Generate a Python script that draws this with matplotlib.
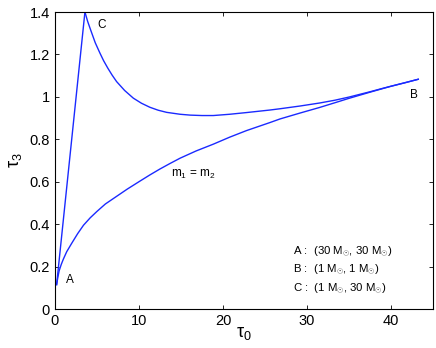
import matplotlib
matplotlib.use("Agg")
import matplotlib.pyplot as plt

plt.rcParams["font.family"] = ["Liberation Sans", "DejaVu Sans"]
plt.rcParams["mathtext.fontset"] = "custom"
plt.rcParams["mathtext.rm"] = "Liberation Sans"
plt.rcParams["mathtext.it"] = "Liberation Sans"

# equal-mass line, A -> B
eq_tau0 = [0.2, 0.35, 0.5, 0.75, 1.0, 1.4, 2.0, 2.7, 3.4, 4.2, 5.0, 6.0, 7.3,
           8.6, 10.0, 11.3, 12.5, 13.7, 14.9, 16.8, 18.85, 20.8, 22.8, 24.2,
           25.6, 26.8, 29.2, 31.5, 33.3, 35.0, 37.5, 40.0, 41.7, 43.25]
eq_tau3 = [0.115, 0.15, 0.18, 0.21, 0.235, 0.27, 0.31, 0.355, 0.395, 0.43,
           0.46, 0.495, 0.53, 0.565, 0.60, 0.632, 0.66, 0.686, 0.711, 0.745,
           0.777, 0.81, 0.841, 0.86, 0.879, 0.896, 0.924, 0.950, 0.972, 0.993,
           1.022, 1.050, 1.067, 1.083]

# edge A -> C
ac_tau0 = [0.2, 3.57]
ac_tau3 = [0.115, 1.40]

# edge C -> B
cb_tau0 = [3.57, 3.9, 4.3, 4.8, 5.36, 5.8, 6.3, 6.8, 7.34, 8.3, 9.33, 10.3,
           11.3, 12.3, 13.3, 14.9, 16.1, 17.5, 18.85, 20.8, 22.8, 24.2, 25.6,
           26.8, 29.2, 31.5, 33.3, 35.0, 36.3, 37.5, 39.0, 40.0, 41.7, 43.25]
cb_tau3 = [1.40, 1.355, 1.31, 1.255, 1.206, 1.17, 1.135, 1.103, 1.072, 1.03,
           0.994, 0.97, 0.951, 0.937, 0.927, 0.918, 0.914, 0.912, 0.912, 0.918,
           0.926, 0.932, 0.938, 0.944, 0.957, 0.971, 0.984, 0.999, 1.012, 1.024,
           1.040, 1.050, 1.067, 1.083]

legend_lines = [r"A :  (30 M$_{\odot}$, 30 M$_{\odot}$)",
                r"B :  (1 M$_{\odot}$, 1 M$_{\odot}$)",
                r"C :  (1 M$_{\odot}$, 30 M$_{\odot}$)"]

fig = plt.figure(figsize=(4.36, 3.48), dpi=100)
ax = fig.add_axes([0.126, 0.112, 0.867, 0.8535])

ax.plot(eq_tau0, eq_tau3, color="#1a2aff", lw=1.0)
ax.plot(ac_tau0, ac_tau3, color="#1a2aff", lw=1.0)
ax.plot(cb_tau0, cb_tau3, color="#1a2aff", lw=1.0)

ax.set_xlim(0, 45)
ax.set_ylim(0, 1.4)
ax.set_xticks([0, 10, 20, 30, 40])
ax.set_yticks([0, 0.2, 0.4, 0.6, 0.8, 1.0, 1.2, 1.4])
ax.set_yticklabels(["0", "0.2", "0.4", "0.6", "0.8", "1", "1.2", "1.4"])
ax.tick_params(direction="in", top=True, right=True, labelsize=10.5, length=3, width=0.6)
for s in ax.spines.values():
    s.set_linewidth(0.8)

ax.set_xlabel(r"$\tau_0$", fontsize=13, labelpad=-2)
ax.set_ylabel(r"$\tau_3$", fontsize=13, labelpad=4)

ax.text(5.1, 1.34, "C", fontsize=8.5, ha="left", va="center")
ax.text(1.3, 0.137, "A", fontsize=8.5, ha="left", va="center")
ax.text(42.3, 1.01, "B", fontsize=8.5, ha="left", va="center")
ax.text(13.8, 0.632, r"m$_1$ = m$_2$", fontsize=8.5, ha="left", va="center")

legend_y = [0.27, 0.183, 0.095]
for t, y in zip(legend_lines, legend_y):
    ax.text(28.3, y, t, fontsize=8.2, ha="left", va="center")

fig.savefig("out.png", dpi=100)
